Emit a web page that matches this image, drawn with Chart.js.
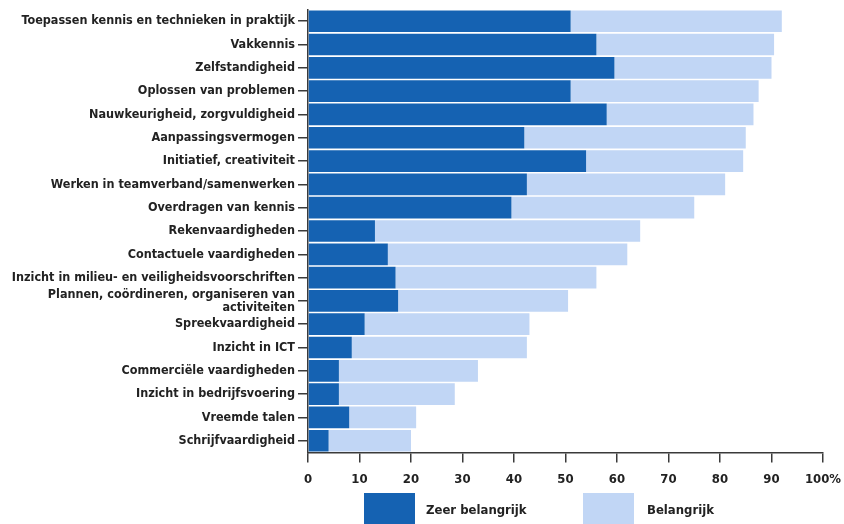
<!DOCTYPE html>
<html>
<head>
<meta charset="utf-8">
<script src="https://cdn.jsdelivr.net/npm/chart.js@4.4.1/dist/chart.umd.min.js"></script>
<style>
  body { margin: 0; background: #fff; }
  #wrap { position: relative; width: 844px; height: 524px; overflow: hidden; }
  #chart { position: absolute; left: 0; top: 0; }
  #legend { position: absolute; left: 0; top: 493px; width: 844px; height: 40px;
    font-family: "DejaVu Sans Condensed", sans-serif; font-weight: bold; font-size: 13px; color: #222; }
  .box { position: absolute; top: 0; width: 51px; height: 34px; }
  .label { position: absolute; top: 9px; white-space: nowrap; }
</style>
</head>
<body>
<div id="wrap">
  <canvas id="chart" width="844" height="524"></canvas>
  <div id="legend"></div>
</div>
<script>
const categories = [
  "Toepassen kennis en technieken in praktijk",
  "Vakkennis",
  "Zelfstandigheid",
  "Oplossen van problemen",
  "Nauwkeurigheid, zorgvuldigheid",
  "Aanpassingsvermogen",
  "Initiatief, creativiteit",
  "Werken in teamverband/samenwerken",
  "Overdragen van kennis",
  "Rekenvaardigheden",
  "Contactuele vaardigheden",
  "Inzicht in milieu- en veiligheidsvoorschriften",
  ["Plannen, coördineren, organiseren van", "activiteiten"],
  "Spreekvaardigheid",
  "Inzicht in ICT",
  "Commerciële vaardigheden",
  "Inzicht in bedrijfsvoering",
  "Vreemde talen",
  "Schrijfvaardigheid"
];

// percentages
const zeerBelangrijk = [51, 56, 59.5, 51, 58, 42, 54, 42.5, 39.5, 13, 15.5, 17, 17.5, 11, 8.5, 6, 6, 8, 4];
const belangrijk     = [41, 34.5, 30.5, 36.5, 28.5, 43, 30.5, 38.5, 35.5, 51.5, 46.5, 39, 33, 32, 34, 27, 22.5, 13, 16];

const xTickLabels = ["0", "10", "20", "30", "40", "50", "60", "70", "80", "90", "100%"];

const seriesNames = ["Zeer belangrijk", "Belangrijk"];
const seriesColors = ["#1562b2", "#c1d6f5"];

const fontFamily = "'DejaVu Sans Condensed', sans-serif";
const axisColor = "#3a3a3a";

const ctx = document.getElementById("chart").getContext("2d");

const chart = new Chart(ctx, {
  type: "bar",
  data: {
    labels: categories,
    datasets: [
      {
        label: seriesNames[0],
        data: zeerBelangrijk,
        backgroundColor: seriesColors[0],
        barPercentage: 0.93,
        categoryPercentage: 1.0,
      },
      {
        label: seriesNames[1],
        data: belangrijk,
        backgroundColor: seriesColors[1],
        barPercentage: 0.93,
        categoryPercentage: 1.0,
      },
    ],
  },
  options: {
    indexAxis: "y",
    responsive: false,
    animation: false,
    layout: { padding: { top: 7, right: 21, bottom: 28, left: 0 } },
    scales: {
      x: {
        stacked: true,
        min: 0,
        max: 100,
        ticks: {
          stepSize: 10,
          color: "#222",
          padding: 9,
          font: { family: fontFamily, size: 13, weight: "bold" },
          callback: (value, i) => xTickLabels[i],
          maxRotation: 0,
        },
        grid: { drawOnChartArea: false, drawTicks: true, tickLength: 10, color: axisColor, lineWidth: 1.5 },
        border: { display: true, color: axisColor, width: 1.5 },
        afterFit: (scale) => { scale.paddingRight = 0; scale.paddingLeft = 0; },
      },
      y: {
        stacked: true,
        ticks: {
          color: "#222",
          padding: 3,
          font: { family: fontFamily, size: 12.5, weight: "bold", lineHeight: 1.05 },
          autoSkip: false,
        },
        grid: { offset: false, drawOnChartArea: false, drawTicks: true, tickLength: 10, color: axisColor, lineWidth: 1.5 },
        border: { display: true, color: axisColor, width: 1.5 },
        afterFit: (scale) => { scale.width = 308; },
      },
    },
    plugins: {
      legend: { display: false },
      tooltip: { enabled: false },
    },
  },
});

// legend built from the datasets
const legendEl = document.getElementById("legend");
const legendSpots = [{ box: 364, text: 426 }, { box: 583, text: 647 }];
chart.data.datasets.forEach((ds, i) => {
  const box = document.createElement("div");
  box.className = "box";
  box.style.left = legendSpots[i].box + "px";
  box.style.background = ds.backgroundColor;
  const label = document.createElement("div");
  label.className = "label";
  label.style.left = legendSpots[i].text + "px";
  label.textContent = ds.label;
  legendEl.appendChild(box);
  legendEl.appendChild(label);
});
</script>
</body>
</html>
